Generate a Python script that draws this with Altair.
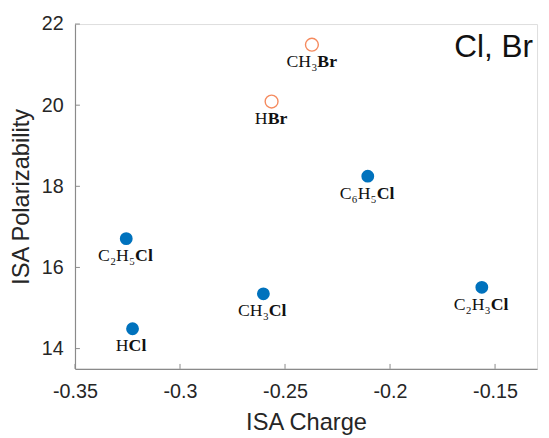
import altair as alt
import pandas as pd

# ---- data ----
label_main = ["CH₃", "H", "C₆H₅", "C₂H₅", "CH₃", "C₂H₃", "H"]
label_bold = ["Br", "Br", "Cl", "Cl", "Cl", "Cl", "Cl"]
isa_charge = [-0.2372, -0.2564, -0.2106, -0.3256, -0.2603, -0.1563, -0.3226]
isa_polar = [21.49, 20.09, 18.25, 16.71, 15.35, 15.51, 14.49]
halogen = ["Br", "Br", "Cl", "Cl", "Cl", "Cl", "Cl"]
x_ticks = [-0.35, -0.3, -0.25, -0.2, -0.15]
y_ticks = [14, 16, 18, 20, 22]
x_domain = [-0.35, -0.13]
y_domain = [13.5, 22]

df = pd.DataFrame({
    "pre": label_main, "suf": label_bold,
    "charge": isa_charge, "polar": isa_polar, "hal": halogen,
})
xt = pd.DataFrame({"v": x_ticks})
yt = pd.DataFrame({"v": y_ticks})

W, H = 469, 350
BLUE = "#0072BD"
ORANGE = "#F58A5E"
AXC = "#8a8a8a"
TXT = "#262626"

xscale = alt.Scale(domain=x_domain, nice=False, zero=False)
yscale = alt.Scale(domain=y_domain, nice=False, zero=False)

xenc = alt.X("charge:Q", scale=xscale, axis=alt.Axis(
    values=x_ticks, title="ISA Charge", grid=False, ticks=False, tickSize=0,
    labelExpr="datum.value + ''", labelFontSize=20, labelFont="Liberation Sans",
    labelColor=TXT, labelPadding=13, labelFlush=False, labelOverlap=False,
    titleFontSize=24, titleFont="Liberation Sans",
    titleFontWeight="normal", titleColor=TXT, titlePadding=10,
    domainColor=AXC, domainWidth=1.2))
yenc = alt.Y("polar:Q", scale=yscale, axis=alt.Axis(
    values=y_ticks, title="ISA Polarizability", grid=False, ticks=False, tickSize=0,
    labelFontSize=20, labelFont="Liberation Sans", labelColor=TXT, labelPadding=12,
    labelFlush=False, labelOverlap=False,
    titleFontSize=24, titleFont="Liberation Sans", titleFontWeight="normal",
    titleColor=TXT, titlePadding=8, domainColor=AXC, domainWidth=1.2))

base = alt.Chart(df).encode(x=xenc, y=yenc)

cl_pts = base.transform_filter("datum.hal == 'Cl'").mark_circle(
    size=170, color=BLUE, opacity=1)
br_pts = base.transform_filter("datum.hal == 'Br'").mark_point(
    shape="circle", filled=False, size=170, color=ORANGE, strokeWidth=1.4, opacity=1)

shift = ("((12*length(replace(datum.pre, regexp('[₀-₉]','g'), '')) + "
         "7*(length(datum.pre) - length(replace(datum.pre, regexp('[₀-₉]','g'), '')))) "
         "- 10*length(datum.suf)) / 2")

lab_pre = base.mark_text(align="right", baseline="middle", dy=18,
                         dx={"expr": shift}, font="Liberation Serif",
                         fontSize=18, color="#111").encode(text="pre:N")
lab_suf = base.mark_text(align="left", baseline="middle", dy=18,
                         dx={"expr": shift}, font="Liberation Serif",
                         fontSize=18, fontWeight="bold", color="#111").encode(text="suf:N")

xtick = alt.Chart(xt).mark_rule(color=AXC, strokeWidth=1).encode(
    x=alt.X("v:Q", scale=xscale), y=alt.value(H), y2=alt.value(H - 5))
ytick = alt.Chart(yt).mark_rule(color=AXC, strokeWidth=1).encode(
    y=alt.Y("v:Q", scale=yscale), x=alt.value(0), x2=alt.value(5))

note = alt.Chart(pd.DataFrame({"t": ["Cl, Br"]})).mark_text(
    align="right", baseline="middle", font="Liberation Sans", fontSize=32,
    color="#111").encode(text="t:N", x=alt.value(W - 4), y=alt.value(23))

chart = alt.layer(xtick, ytick, cl_pts, br_pts, lab_pre, lab_suf, note).properties(
    width=W, height=H,
    autosize=alt.AutoSizeParams(type="none"),
    padding={"left": 68, "top": 13, "right": 4, "bottom": 75},
).configure_view(stroke=None).configure(background="white")

chart.save("out.html", embed_options={"renderer": "svg", "actions": False})
